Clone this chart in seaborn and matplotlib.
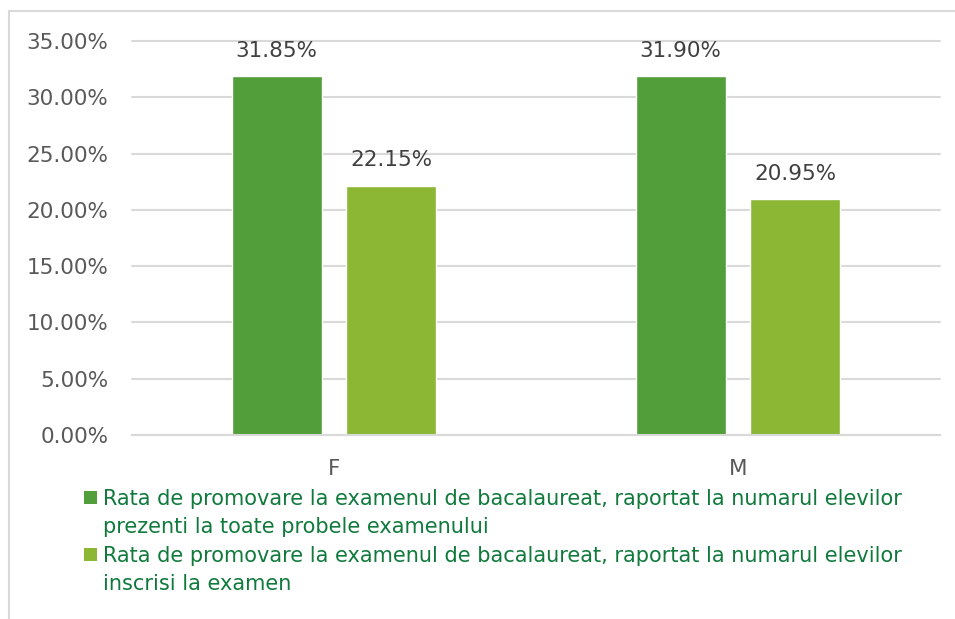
import pandas as pd
import matplotlib
matplotlib.use("Agg")
import matplotlib.pyplot as plt
from matplotlib.patches import Rectangle
from matplotlib.lines import Line2D
from matplotlib.ticker import FuncFormatter
import seaborn as sns

# ---------------- Data ----------------
gender = ["F", "M"]
series_names = [
    "Rata de promovare la examenul de bacalaureat, raportat la numarul elevilor\nprezenti la toate probele examenului",
    "Rata de promovare la examenul de bacalaureat, raportat la numarul elevilor\ninscrisi la examen",
]
rate_present = [31.85, 31.90]
rate_enrolled = [22.15, 20.95]
colors = ["#529E3A", "#8BB735"]

df = pd.DataFrame({
    "gen": gender * 2,
    "serie": [series_names[0]] * 2 + [series_names[1]] * 2,
    "rata": rate_present + rate_enrolled,
})

# ---------------- Plot ----------------
sns.set_style("white")
plt.rcParams["font.family"] = ["DejaVu Sans"]

W, H = 955, 619
fig = plt.figure(figsize=(W / 100, H / 100), dpi=100)
ax = fig.add_axes([132 / W, 1 - 435 / H, 808 / W, 394 / H])

sns.barplot(data=df, x="gen", y="rata", hue="serie", palette=colors,
            width=0.569, gap=0.217, ax=ax, legend=False, saturation=1)

ax.set_ylim(0, 35)
ax.set_yticks(range(0, 36, 5))
ax.yaxis.set_major_formatter(FuncFormatter(lambda v, p: f"{v:.2f}%"))
ax.grid(axis="y", color="#D9D9D9", linewidth=1.5)
for gl in ax.get_ygridlines():
    gl.set_clip_on(False)
ax.set_axisbelow(True)
for side in ["top", "right", "left"]:
    ax.spines[side].set_visible(False)
ax.spines["bottom"].set_color("#D9D9D9")
ax.spines["bottom"].set_linewidth(1.5)
ax.tick_params(axis="both", length=0, labelsize=15.5, colors="#595959")
ax.tick_params(axis="y", pad=17)
ax.tick_params(axis="x", pad=17)
ax.set_xlabel("")
ax.set_ylabel("")

for cont in ax.containers:
    ax.bar_label(cont, labels=[f"{v:.2f}%" for v in cont.datavalues],
                 padding=11, fontsize=15.5, color="#404040")

# ---------------- Legend (square marker next to first line of each entry) ----------------
entry_top = [489, 546]
for name, col, y in zip(series_names, colors, entry_top):
    fig.add_artist(Rectangle((84 / W, 1 - (y + 15) / H), 13 / W, 13 / H,
                             transform=fig.transFigure, facecolor=col, edgecolor="none"))
    fig.text(103 / W, 1 - y / H, name, fontsize=15, color="#107A3C",
             ha="left", va="top", linespacing=1.5)

# light chart border (left and top)
fig.add_artist(Line2D([9 / W, 9 / W], [0, 1 - 11 / H], color="#D9D9D9", linewidth=1.5))
fig.add_artist(Line2D([9 / W, 1], [1 - 11 / H, 1 - 11 / H], color="#D9D9D9", linewidth=1.5))

fig.savefig("out.png", dpi=100)
